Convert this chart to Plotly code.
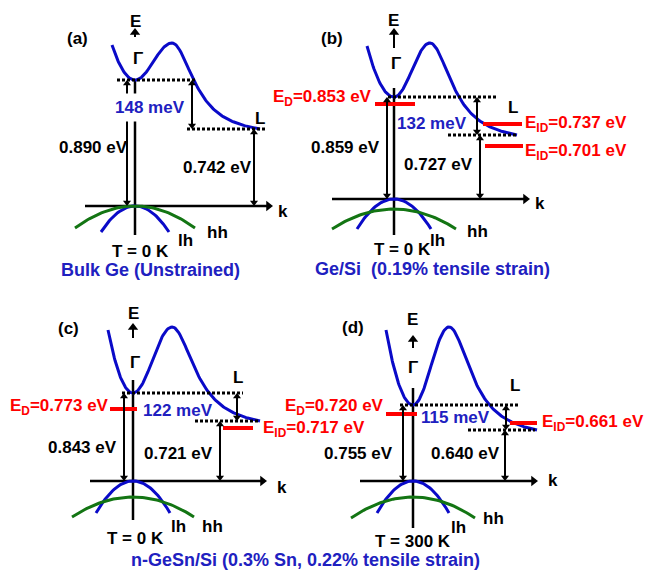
import numpy as np
import plotly.graph_objects as go

# ---------------- data ----------------
panel_tags = ["(a)", "(b)", "(c)", "(d)"]
gamma_gap_eV = [0.890, 0.859, 0.843, 0.755]          # direct (Gamma) gap
L_gap_eV = [0.742, 0.727, 0.721, 0.640]              # indirect (L) gap
gamma_L_offset_meV = [148, 132, 122, 115]            # Gamma - L separation
direct_gap_eV = [None, 0.853, 0.773, 0.720]          # E_D markers
indirect_gap_eV = [[], [0.737, 0.701], [0.717], [0.661]]  # E_ID markers
temperature_K = [0, 0, 0, 300]
panel_captions = ["Bulk Ge (Unstrained)", "Ge/Si\u00a0\u00a0(0.19% tensile strain)", "", ""]
shared_caption = "n-GeSn/Si (0.3% Sn, 0.22% tensile strain)"

# ---------------- schematic layout (pixels, origin = Gamma point on k axis, up = +) ----------------
geom = [
    dict(ox=135, oy=206, gam=126, Lv=77, xs=-23, hs=161, xp=37, P=163, xe=125, w=27,
         dotG=(-18, 60), dotL=(52, 130), xgap=57, xL=119, xG=-8,
         kax=(-50, 138), vax=(125, -29), Earr=(169, 178),
         lh=(34, 26), hh=(0, 60, 22), ED=None, EID=[],
         t_tag=(-58, 168), t_E=(0, 185), t_G=(3, 148), t_L=(125, 88), t_k=(148, -5),
         t_meV=(15, 99), t_gG=(-42, 59), t_gL=(82, 39), t_lh=(50, -34), t_hh=(82, -26),
         t_T=(5, -45), t_cap=(15, -64), t_ED=None, t_EID=[]),
    dict(ox=394, oy=199, gam=102, Lv=64, xs=-27, hs=153, xp=36, P=156, xe=123, w=27,
         dotG=(-6, 103), dotL=(54, 123), xgap=83, xL=86, xG=-7,
         kax=(-62, 136), vax=(111, -36), Earr=(151, 171),
         lh=(37, 30), hh=(-10, 62, 20), ED=(95, -19, 21), EID=[(75, 89, 128), (53, 91, 129)],
         t_tag=(-62, 161), t_E=(-1, 179), t_G=(2, 136), t_L=(119, 92), t_k=(146, -4),
         t_meV=(38, 76), t_gG=(-49, 52), t_gL=(44, 35), t_lh=(43, -41), t_hh=(83, -32),
         t_T=(8, -50), t_cap=(38, -70), t_ED=(-21, 101), t_EID=[(130, 75), (130, 47)]),
    dict(ox=133, oy=481, gam=88, Lv=60, xs=-25, hs=151, xp=39, P=154, xe=127, w=28,
         dotG=(-11, 110), dotL=(62, 127), xgap=104, xL=87, xG=-9,
         kax=(-43, 134), vax=(101, -39), Earr=(143, 158),
         lh=(37, 32), hh=(-16, 61, 20), ED=(72, -23, 4), EID=[(53, 90, 120)],
         t_tag=(-65, 153), t_E=(0, 168), t_G=(2, 119), t_L=(105, 104), t_k=(149, -6),
         t_meV=(45, 71), t_gG=(-51, 34), t_gL=(45, 28), t_lh=(45, -45), t_hh=(79, -45),
         t_T=(2, -57), t_cap=None, t_ED=(-23, 74), t_EID=[(129, 52)]),
    dict(ox=413, oy=481, gam=76, Lv=51, xs=-27, hs=151, xp=36, P=154, xe=124, w=27,
         dotG=(-13, 105), dotL=(55, 122), xgap=93, xL=92, xG=-10,
         kax=(-53, 125), vax=(93, -47), Earr=(133, 146),
         lh=(36, 32), hh=(-16, 62, 21), ED=(67, -27, 4), EID=[(58, 97, 124)],
         t_tag=(-60, 154), t_E=(-1, 162), t_G=(0, 114), t_L=(102, 96), t_k=(140, 1),
         t_meV=(42, 64), t_gG=(-55, 28), t_gL=(52, 28), t_lh=(45, -46), t_hh=(80, -37),
         t_T=(0, -60), t_cap=None, t_ED=(-28, 74), t_EID=[(128, 58)]),
]
shared_caption_pos = (305, 560)

BLUE = "#0a0ac8"
BLUE_TXT = "#2020c0"
GREEN = "#137513"
RED = "#ff0000"
FONT = "Liberation Sans"
FS = 17
FS_CAP = 18
HEAD = 7        # arrow head marker size
AXHEAD = 9      # axis arrow head marker size

fig = go.Figure()
annotations = []
heads = {"triangle-up": ([], [], HEAD), "triangle-down": ([], [], HEAD),
         "triangle-right": ([], [], AXHEAD), "axis-up": ([], [], AXHEAD)}


def line(xs, ys, color="black", width=2.5, dash=None):
    fig.add_trace(go.Scatter(x=xs, y=ys, mode="lines", hoverinfo="skip", showlegend=False,
                             line=dict(color=color, width=width, dash=dash)))


def varrow(x, y_bot, y_top, both=True, key_up="triangle-up"):
    """vertical arrow in pixel coords (y grows downward); head at top, optionally at bottom"""
    s = heads[key_up][2]
    y0 = y_bot - (s / 2 if both else 0)
    y1 = y_top + s / 2
    line([x, x], [y0, y1], width=2)
    heads[key_up][0].append(x)
    heads[key_up][1].append(y_top + s / 2)
    if both:
        heads["triangle-down"][0].append(x)
        heads["triangle-down"][1].append(y_bot - HEAD / 2)


def text(x, y, s, color="black", xanchor="center", bg=None, size=FS):
    d = dict(x=x, y=y, xref="x", yref="y", text=s, showarrow=False, xanchor=xanchor,
             yanchor="middle", borderpad=0,
             font=dict(family=FONT, size=size, color=color, weight="bold"))
    if bg:
        d.update(bgcolor=bg, borderpad=4)
    annotations.append(d)


for i, g in enumerate(geom):
    X = lambda dx, g=g: g["ox"] + dx
    Y = lambda dy, g=g: g["oy"] - dy

    # axes
    line([X(g["kax"][0]), X(g["kax"][1]) - AXHEAD / 2], [Y(0), Y(0)])
    heads["triangle-right"][0].append(X(g["kax"][1]) - AXHEAD / 2)
    heads["triangle-right"][1].append(Y(0))
    line([X(0), X(0)], [Y(g["vax"][0]), Y(g["vax"][1])])
    varrow(X(0), Y(g["Earr"][0]), Y(g["Earr"][1]), both=False, key_up="axis-up")

    # conduction band (schematic shape)
    xl = np.linspace(g["xs"], 0, 40)
    yl = g["gam"] + (g["hs"] - g["gam"]) * (xl / g["xs"]) ** 2
    xm = np.linspace(0, g["xp"], 40)
    ym = g["gam"] + (g["P"] - g["gam"]) * np.sin(np.pi / 2 * xm / g["xp"]) ** 2
    xr = np.linspace(g["xp"], g["xe"], 80)
    lor = lambda x: 1.0 / (1.0 + ((x - g["xp"]) / g["w"]) ** 2)
    yr = g["Lv"] + (g["P"] - g["Lv"]) * (lor(xr) - lor(g["xe"])) / (1 - lor(g["xe"]))
    cx = np.concatenate([xl, xm[1:], xr[1:]])
    cy = np.concatenate([yl, ym[1:], yr[1:]])
    line([X(v) for v in cx], [Y(v) for v in cy], color=BLUE, width=3)

    # valence bands
    hw, dr = g["lh"]
    vx = np.linspace(-hw, hw, 50)
    line([X(v) for v in vx], [Y(-dr * (v / hw) ** 2) for v in vx], color=BLUE, width=3)
    pk, hw2, dr2 = g["hh"]
    vx2 = np.linspace(-hw2, hw2, 60)
    line([X(v) for v in vx2], [Y(pk - dr2 * (v / hw2) ** 2) for v in vx2], color=GREEN, width=3)

    # dotted reference levels
    line([X(g["dotG"][0]), X(g["dotG"][1])], [Y(g["gam"])] * 2, width=3, dash="3px,2px")
    line([X(g["dotL"][0]), X(g["dotL"][1])], [Y(g["Lv"])] * 2, width=3, dash="3px,2px")

    # red E_D / E_ID levels
    if g["ED"]:
        h, a, b = g["ED"]
        line([X(a), X(b)], [Y(h)] * 2, color=RED, width=4)
    for (h, a, b) in g["EID"]:
        line([X(a), X(b)], [Y(h)] * 2, color=RED, width=4)

    # energy arrows
    varrow(X(g["xG"]), Y(0), Y(g["gam"]))
    varrow(X(g["xL"]), Y(0), Y(g["Lv"]))
    varrow(X(g["xgap"]), Y(g["Lv"]), Y(g["gam"]))

    # texts
    text(X(g["t_tag"][0]), Y(g["t_tag"][1]), panel_tags[i])
    text(X(g["t_E"][0]), Y(g["t_E"][1]), "E")
    text(X(g["t_G"][0]), Y(g["t_G"][1]), "Γ")
    text(X(g["t_L"][0]), Y(g["t_L"][1]), "L")
    text(X(g["t_k"][0]), Y(g["t_k"][1]), "k")
    text(X(g["t_meV"][0]), Y(g["t_meV"][1]), f"{gamma_L_offset_meV[i]} meV", color=BLUE_TXT,
         bg="white" if i == 0 else None)
    text(X(g["t_gG"][0]), Y(g["t_gG"][1]), f"{gamma_gap_eV[i]:.3f} eV")
    text(X(g["t_gL"][0]), Y(g["t_gL"][1]), f"{L_gap_eV[i]:.3f} eV")
    text(X(g["t_lh"][0]), Y(g["t_lh"][1]), "lh")
    text(X(g["t_hh"][0]), Y(g["t_hh"][1]), "hh")
    text(X(g["t_T"][0]), Y(g["t_T"][1]), f"T = {temperature_K[i]} K")
    if g["t_cap"] and panel_captions[i]:
        text(X(g["t_cap"][0]), Y(g["t_cap"][1]), panel_captions[i], color=BLUE_TXT, size=FS_CAP)
    if g["t_ED"] and direct_gap_eV[i] is not None:
        text(X(g["t_ED"][0]), Y(g["t_ED"][1]), f"E<sub>D</sub>={direct_gap_eV[i]:.3f} eV",
             color=RED, xanchor="right")
    for (pos, v) in zip(g["t_EID"], indirect_gap_eV[i]):
        text(X(pos[0]), Y(pos[1]), f"E<sub>ID</sub>={v:.3f} eV", color=RED, xanchor="left")

text(shared_caption_pos[0], shared_caption_pos[1], shared_caption, color=BLUE_TXT, size=FS_CAP)

# arrow heads as triangle markers
for key, (hx, hy, size) in heads.items():
    sym = "triangle-up" if key == "axis-up" else key
    fig.add_trace(go.Scatter(x=hx, y=hy, mode="markers", hoverinfo="skip", showlegend=False,
                             marker=dict(symbol=sym, size=size, color="black", line=dict(width=0))))

fig.update_layout(
    width=649, height=574, margin=dict(l=0, r=0, t=0, b=0),
    paper_bgcolor="white", plot_bgcolor="white", showlegend=False,
    xaxis=dict(range=[0, 649], visible=False, fixedrange=True),
    yaxis=dict(range=[574, 0], visible=False, fixedrange=True),
    annotations=annotations,
)
fig.write_html("out.html")
